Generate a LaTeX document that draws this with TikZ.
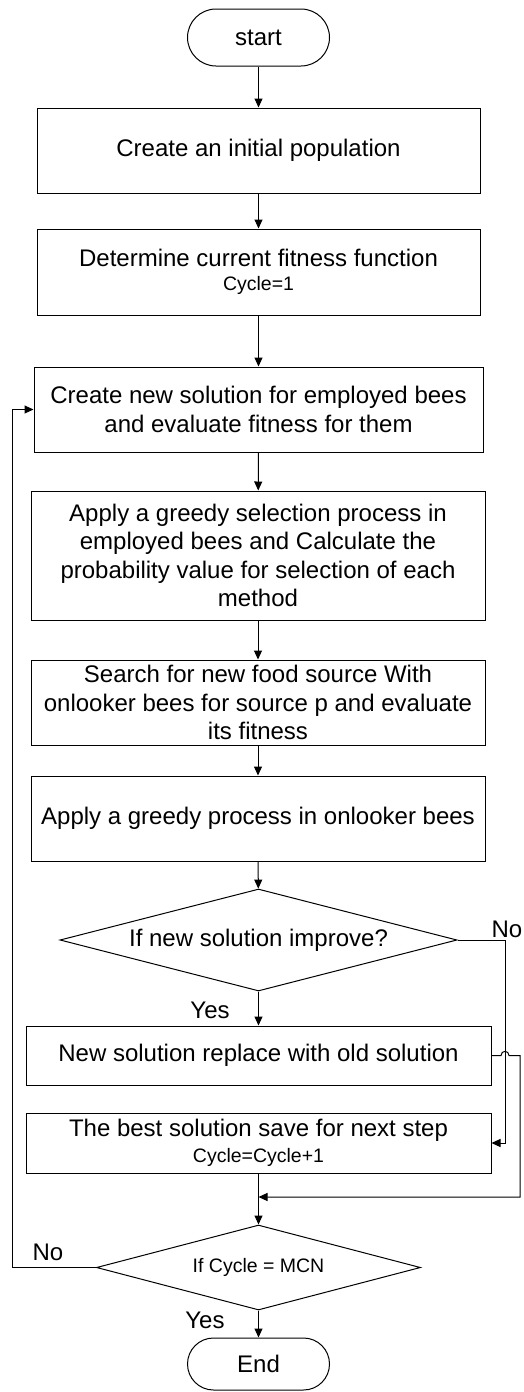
\documentclass[tikz,border=0pt]{standalone}
\usepackage{fontspec}
\setmainfont{Liberation Sans}
\usetikzlibrary{shapes.geometric,arrows.meta}
\newcommand\bigtxt{\fontsize{24}{28.5}\selectfont}
\newcommand\smalltxt{\fontsize{19.5}{23}\selectfont}
\begin{document}
\begin{tikzpicture}[x=1pt,y=-1pt,
  box/.style={draw, rectangle, inner sep=0pt, align=center, line width=1pt, font=\bigtxt},
  term/.style={draw, rectangle, inner sep=0pt, line width=1pt, font=\bigtxt, minimum width=142pt},
  dec/.style={draw, diamond, inner sep=0pt, line width=1pt, align=center},
  lbl/.style={inner sep=0pt, anchor=base, font=\bigtxt},
  arr/.style={-{Triangle[length=9pt,width=8pt]}, line width=1pt},
  ln/.style={line width=1pt}]
\useasboundingbox (0,0) rectangle (524,1392);

\node[term, minimum height=57pt, rounded corners=28.5pt] (start) at (258.5,37.5) {start};
\node[box, minimum width=443pt, minimum height=85pt] (b1) at (258.5,150.5) {Create an initial population};
\node[box, minimum width=443pt, minimum height=86pt] (b2) at (258.5,272) {Determine current fitness function\\[-4pt]{\smalltxt Cycle=1}};
\node[box, minimum width=449pt, minimum height=85pt] (b3) at (258.5,409.5) {Create new solution for employed bees\\and evaluate fitness for them};
\node[box, minimum width=454pt, minimum height=129pt] (b4) at (258,555.5) {Apply a greedy selection process in\\employed bees and Calculate the\\probability value for selection of each\\method};
\node[box, minimum width=454pt, minimum height=85pt] (b5) at (258,702.5) {Search for new food source With\\onlooker bees for source p and evaluate\\its fitness};
\node[box, minimum width=454pt, minimum height=85pt] (b6) at (258,818.5) {Apply a greedy process in onlooker bees};
\node[dec, font=\bigtxt, minimum width=397pt, minimum height=102pt, aspect=3.9] (d1) at (258.5,940) {If new solution improve?};
\node[box, minimum width=465pt, minimum height=59pt] (b7) at (258.5,1055.5) {New solution replace with old solution};
\node[box, minimum width=465pt, minimum height=60pt] (b8) at (258.5,1143) {The best solution save for next step\\[-3pt]{\smalltxt Cycle=Cycle+1}};
\node[dec, font=\smalltxt, minimum width=324pt, minimum height=85pt, aspect=3.8] (d2) at (258.5,1267.5) {If Cycle = MCN};
\node[term, minimum height=52pt, rounded corners=26pt] (end) at (258.5,1364) {End};

\node[lbl] (no1) at (507,937) {No};
\node[lbl] (yes1) at (210,1018) {Yes};
\node[lbl] (no2) at (48,1260) {No};
\node[lbl] (yes2) at (205,1328) {Yes};

\coordinate (r1) at (505,0);
\coordinate (r2) at (520,0);
\coordinate (lx) at (12,0);
\coordinate (m) at (0,1197);
\coordinate (h1) at (501,1055.5);
\coordinate (h2) at (509,1055.5);

\draw[arr] (start) -- (b1);
\draw[arr] (b1) -- (b2);
\draw[arr] (b2) -- (b3);
\draw[arr] (b3) -- (b4);
\draw[arr] (b4) -- (b5);
\draw[arr] (b5) -- (b6);
\draw[arr] (b6) -- (d1);
\draw[arr] (d1) -- (b7);
\draw[arr] (b8) -- (d2);
\draw[arr] (d2) -- (end);
\draw[arr] (d1.east) -- (d1.east -| r1) -- (r1 |- b8.east) -- (b8.east);
\draw[arr] (b7.east) -- (h1) .. controls (501,1050) and (509,1050) .. (h2) -- (r2 |- h2) -- (r2 |- m) -- (m -| b8.south);
\draw[arr] (d2.west) -- (d2.west -| lx) -- (lx |- b3.west) -- (b3.west);
\end{tikzpicture}
\end{document}
